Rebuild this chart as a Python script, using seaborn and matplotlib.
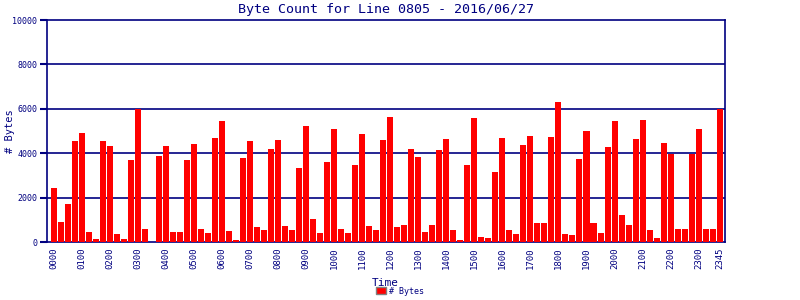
import matplotlib
matplotlib.use("Agg")
import matplotlib.pyplot as plt
import seaborn as sns
import pandas as pd
from matplotlib.patches import Patch

title = "Byte Count for Line 0805 - 2016/06/27"
times = [f"{h:02d}{m:02d}" for h in range(24) for m in (0, 15, 30, 45)]
byte_counts = [
    2450, 910, 1720, 4560, 4920, 460, 150, 4560,
    4340, 380, 150, 3710, 6000, 600, 0, 3890,
    4340, 460, 460, 3710, 4420, 600, 420, 4700,
    5460, 510, 100, 3800, 4560, 690, 560, 4200,
    4600, 740, 560, 3350, 5240, 1050, 420, 3620,
    5100, 600, 420, 3480, 4870, 740, 560, 4600,
    5640, 690, 780, 4200, 3850, 460, 780, 4160,
    4650, 560, 100, 3480, 5600, 240, 200, 3170,
    4700, 560, 380, 4380, 4790, 870, 870, 4740,
    6320, 380, 330, 3760, 5010, 840, 390, 4300,
    5430, 1200, 750, 4650, 5480, 520, 170, 4480,
    3980, 570, 570, 3980, 5100, 570, 570, 5980,
]
tick_idx = list(range(0, 96, 4)) + [95]
yticks = [0, 2000, 4000, 6000, 8000, 10000]

navy = "#000080"
sns.set_theme(style="white")
plt.rcParams['font.family'] = ['DejaVu Sans Mono', 'DejaVu Sans']

df = pd.DataFrame({"idx": list(range(len(byte_counts))), "bytes": byte_counts})

fig = plt.figure(figsize=(8, 3), dpi=100)
ax = fig.add_axes([47/800, 1 - 242/300, (725 - 47)/800, (242 - 20)/300])
sns.barplot(data=df, x="idx", y="bytes", color="#ff0000", saturation=1,
            width=0.86, ax=ax, zorder=3, linewidth=0)
ax.set_xlim(-0.93, 95.75)
ax.set_ylim(0, 10000)
ax.set_yticks(yticks)
ax.set_yticklabels([str(v) for v in yticks], fontsize=6, color=navy)
ax.set_xticks(tick_idx)
ax.set_xticklabels([times[i] for i in tick_idx], rotation=90, fontsize=6.5, color=navy)
ax.tick_params(axis="y", direction="out", length=5, width=1.5, color=navy, left=True, pad=2)
ax.tick_params(axis="x", direction="out", length=0, pad=4)
for y in yticks[1:-1]:
    ax.axhline(y, color=navy, lw=1.2, zorder=1)
for s in ax.spines.values():
    s.set_color(navy)
    s.set_linewidth(1.2)
ax.set_xlabel("Time", fontsize=8, color=navy)
ax.xaxis.set_label_coords((385 - 47) / 678, -(278 - 242) / 222)
ax.set_ylabel("# Bytes", fontsize=7.5, color=navy)
ax.yaxis.set_label_coords(-(47 - 15) / 678, 0.5)
ax.set_title(title, fontsize=9.6, color=navy, pad=5)

handle = Patch(facecolor="#ff0000", edgecolor="#808080", linewidth=1)
fig.legend([handle], ["# Bytes"], loc="lower center", bbox_to_anchor=(0.5, -0.01),
           frameon=False, fontsize=6, labelcolor=navy, handlelength=1.2,
           handleheight=0.8, handletextpad=0.4)

fig.savefig("out.png", dpi=100)
